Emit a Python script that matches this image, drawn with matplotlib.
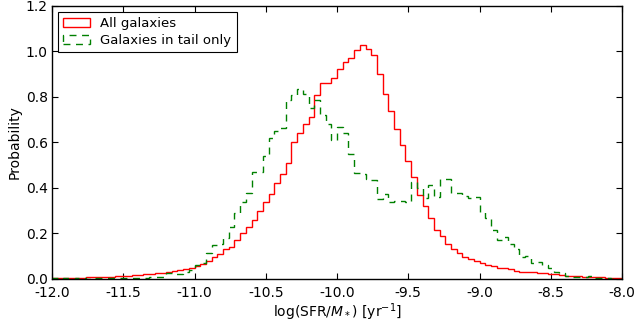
import numpy as np
import matplotlib
matplotlib.use("Agg")
import matplotlib.pyplot as plt

# histogram layout: 100 bins between -12 and -8
bin_edges = np.linspace(-12.0, -8.0, 101)
bin_centers = 0.5 * (bin_edges[:-1] + bin_edges[1:])

# normalised counts, one value per bin
all_galaxies = [
    0.005, 0.005, 0.005, 0.006, 0.006, 0.006, 0.007, 0.007, 0.008, 0.008,
    0.010, 0.012, 0.013, 0.015, 0.016, 0.018, 0.020, 0.022, 0.025, 0.028,
    0.030, 0.035, 0.040, 0.045, 0.050, 0.055, 0.065, 0.080, 0.095, 0.110,
    0.130, 0.140, 0.170, 0.200, 0.230, 0.260, 0.300, 0.340, 0.375, 0.420,
    0.460, 0.510, 0.600, 0.640, 0.680, 0.710, 0.810, 0.860, 0.860, 0.885,
    0.925, 0.955, 0.970, 1.005, 1.030, 1.010, 0.985, 0.900, 0.815, 0.740,
    0.660, 0.590, 0.520, 0.450, 0.370, 0.320, 0.270, 0.215, 0.190, 0.155,
    0.130, 0.113, 0.098, 0.087, 0.080, 0.072, 0.062, 0.055, 0.048, 0.048,
    0.045, 0.037, 0.032, 0.032, 0.030, 0.028, 0.025, 0.022, 0.020, 0.017,
    0.015, 0.013, 0.012, 0.010, 0.009, 0.008, 0.007, 0.006, 0.005, 0.004,
]

tail_only = [
    0.003, 0.000, 0.003, 0.000, 0.003, 0.003, 0.000, 0.003, 0.003, 0.003,
    0.004, 0.003, 0.004, 0.004, 0.005, 0.005, 0.005, 0.008, 0.008, 0.010,
    0.028, 0.022, 0.022, 0.030, 0.040, 0.060, 0.070, 0.115, 0.150, 0.153,
    0.180, 0.230, 0.290, 0.340, 0.380, 0.470, 0.470, 0.540, 0.620, 0.650,
    0.665, 0.785, 0.810, 0.835, 0.815, 0.750, 0.785, 0.720, 0.680, 0.610,
    0.670, 0.640, 0.550, 0.465, 0.460, 0.440, 0.435, 0.350, 0.375, 0.340,
    0.345, 0.345, 0.340, 0.425, 0.400, 0.355, 0.415, 0.360, 0.440, 0.440,
    0.380, 0.380, 0.365, 0.355, 0.360, 0.295, 0.270, 0.215, 0.170, 0.183,
    0.155, 0.130, 0.095, 0.100, 0.070, 0.075, 0.060, 0.048, 0.030, 0.025,
    0.013, 0.010, 0.008, 0.008, 0.015, 0.005, 0.004, 0.003, 0.002, 0.002,
]

plt.rcParams['font.family'] = ['DejaVu Sans']
plt.rcParams['font.size'] = 10

fig = plt.figure(figsize=(6.39, 3.26), dpi=100)
ax = fig.add_axes([0.0814, 0.1442, 0.892, 0.8374])

ax.hist(bin_centers, bins=bin_edges, weights=all_galaxies, histtype='step',
        color='#ff0000', linewidth=1.0, label='All galaxies')
ax.hist(bin_centers, bins=bin_edges, weights=tail_only, histtype='step',
        color='#008000', linewidth=1.0, linestyle=(0, (5, 4)),
        label='Galaxies in tail only')

ax.set_xlim(-12.0, -8.0)
ax.set_ylim(0.0, 1.2)
ax.set_xticks(np.arange(-12.0, -7.99, 0.5))
ax.set_yticks(np.arange(0.0, 1.21, 0.2))
ax.xaxis.set_major_formatter(matplotlib.ticker.FormatStrFormatter('%.1f'))
ax.yaxis.set_major_formatter(matplotlib.ticker.FormatStrFormatter('%.1f'))
ax.tick_params(direction='in', top=True, right=True, length=4.5, width=0.8,
               labelsize=10)
ax.tick_params(axis='x', pad=5)
ax.tick_params(axis='y', pad=3)
for sp in ax.spines.values():
    sp.set_linewidth(1.0)

ax.set_xlabel(r'log(SFR/$M_*$) [yr$^{-1}$]', fontsize=10, labelpad=1)
ax.set_ylabel('Probability', fontsize=10, labelpad=3)

leg = ax.legend(loc='upper left', fontsize=9.5, fancybox=False,
                edgecolor='black', framealpha=1.0, borderaxespad=0.45,
                handlelength=2.0, handletextpad=0.8, borderpad=0.4,
                labelspacing=0.3)
leg.get_frame().set_linewidth(0.8)

fig.savefig('out.png', dpi=100)
